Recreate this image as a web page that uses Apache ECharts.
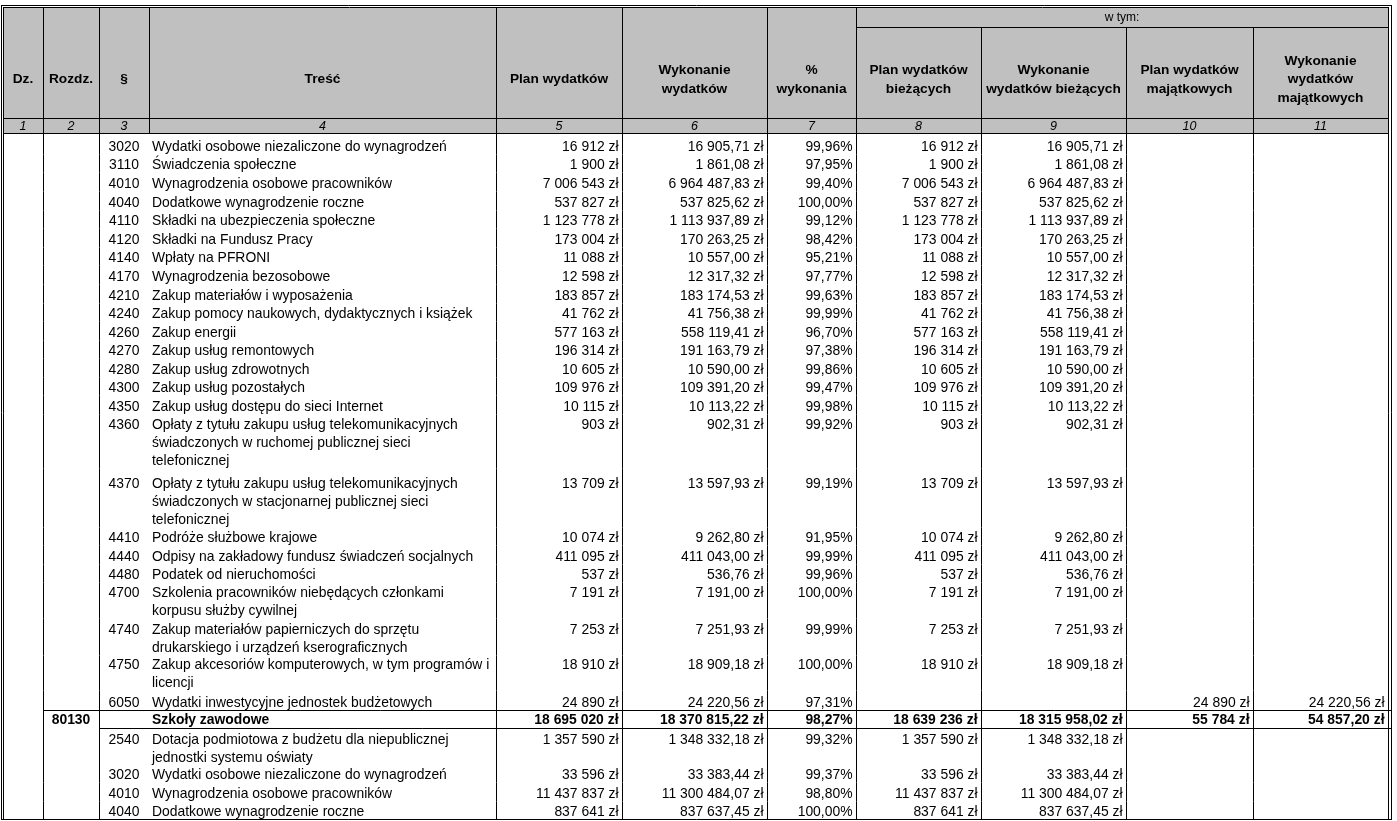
<!DOCTYPE html>
<html>
<head>
<meta charset="utf-8">
<title>Wykonanie wydatków</title>
<script src="https://cdn.jsdelivr.net/npm/echarts@6/dist/echarts.min.js"></script>
<style>
  html, body { margin: 0; padding: 0; background: #fff; }
  #chart { width: 1397px; height: 821px; }
</style>
</head>
<body>
<div id="chart"></div>
<script>
// naglowek tabeli
const columnTitles = ['Dz.', 'Rozdz.', '§', 'Treść', 'Plan wydatków', 'Wykonanie\nwydatków', '%\nwykonania',
  'Plan wydatków\nbieżących', 'Wykonanie\nwydatków bieżących', 'Plan wydatków\nmajątkowych', 'Wykonanie\nwydatków\nmajątkowych']
const columnNumbers = ['1', '2', '3', '4', '5', '6', '7', '8', '9', '10', '11']
const groupTitle = 'w tym:'

// wiersze
const paragraphs = ['3020', '3110', '4010', '4040', '4110', '4120', '4140', '4170', '4210', '4240', '4260', '4270', '4280', '4300', '4350',
  '4360', '4370', '4410', '4440', '4480', '4700', '4740', '4750', '6050', '', '2540', '3020', '4010', '4040']
const chapters = ['', '', '', '', '', '', '', '', '', '', '', '', '', '', '',
  '', '', '', '', '', '', '', '', '', '80130', '', '', '', '']
const descriptions = [
  'Wydatki osobowe niezaliczone do wynagrodzeń',
  'Świadczenia społeczne',
  'Wynagrodzenia osobowe pracowników',
  'Dodatkowe wynagrodzenie roczne',
  'Składki na ubezpieczenia społeczne',
  'Składki na Fundusz Pracy',
  'Wpłaty na PFRONI',
  'Wynagrodzenia bezosobowe',
  'Zakup materiałów i wyposażenia',
  'Zakup pomocy naukowych, dydaktycznych i książek',
  'Zakup energii',
  'Zakup usług remontowych',
  'Zakup usług zdrowotnych',
  'Zakup usług pozostałych',
  'Zakup usług dostępu do sieci Internet',
  'Opłaty z tytułu zakupu usług telekomunikacyjnych\nświadczonych w ruchomej publicznej sieci\ntelefonicznej',
  'Opłaty z tytułu zakupu usług telekomunikacyjnych\nświadczonych w stacjonarnej publicznej sieci\ntelefonicznej',
  'Podróże służbowe krajowe',
  'Odpisy na zakładowy fundusz świadczeń socjalnych',
  'Podatek od nieruchomości',
  'Szkolenia pracowników niebędących członkami\nkorpusu służby cywilnej',
  'Zakup materiałów papierniczych do sprzętu\ndrukarskiego i urządzeń kserograficznych',
  'Zakup akcesoriów komputerowych, w tym programów i\nlicencji',
  'Wydatki inwestycyjne jednostek budżetowych',
  'Szkoły zawodowe',
  'Dotacja podmiotowa z budżetu dla niepublicznej\njednostki systemu oświaty',
  'Wydatki osobowe niezaliczone do wynagrodzeń',
  'Wynagrodzenia osobowe pracowników',
  'Dodatkowe wynagrodzenie roczne'
]
const planTotal = [16912, 1900, 7006543, 537827, 1123778, 173004, 11088, 12598, 183857, 41762, 577163, 196314, 10605, 109976, 10115,
  903, 13709, 10074, 411095, 537, 7191, 7253, 18910, 24890, 18695020, 1357590, 33596, 11437837, 837641]
const execTotal = [16905.71, 1861.08, 6964487.83, 537825.62, 1113937.89, 170263.25, 10557.00, 12317.32, 183174.53, 41756.38, 558119.41,
  191163.79, 10590.00, 109391.20, 10113.22, 902.31, 13597.93, 9262.80, 411043.00, 536.76, 7191.00, 7251.93, 18909.18, 24220.56,
  18370815.22, 1348332.18, 33383.44, 11300484.07, 837637.45]
const execPercent = [99.96, 97.95, 99.40, 100.00, 99.12, 98.42, 95.21, 97.77, 99.63, 99.99, 96.70, 97.38, 99.86, 99.47, 99.98,
  99.92, 99.19, 91.95, 99.99, 99.96, 100.00, 99.99, 100.00, 97.31, 98.27, 99.32, 99.37, 98.80, 100.00]
const planCurrent = [16912, 1900, 7006543, 537827, 1123778, 173004, 11088, 12598, 183857, 41762, 577163, 196314, 10605, 109976, 10115,
  903, 13709, 10074, 411095, 537, 7191, 7253, 18910, null, 18639236, 1357590, 33596, 11437837, 837641]
const execCurrent = [16905.71, 1861.08, 6964487.83, 537825.62, 1113937.89, 170263.25, 10557.00, 12317.32, 183174.53, 41756.38, 558119.41,
  191163.79, 10590.00, 109391.20, 10113.22, 902.31, 13597.93, 9262.80, 411043.00, 536.76, 7191.00, 7251.93, 18909.18, null,
  18315958.02, 1348332.18, 33383.44, 11300484.07, 837637.45]
const planCapital = [null, null, null, null, null, null, null, null, null, null, null, null, null, null, null,
  null, null, null, null, null, null, null, null, 24890, 55784, null, null, null, null]
const execCapital = [null, null, null, null, null, null, null, null, null, null, null, null, null, null, null,
  null, null, null, null, null, null, null, null, 24220.56, 54857.20, null, null, null, null]

// uklad (piksele)
const edges = [3, 43, 99, 149, 496, 622, 767, 856, 981, 1126, 1253, 1388]
const rowHeights = [21.5, 18, 19, 19, 18, 19, 18, 19, 19, 18, 19, 18, 19, 18, 19,
  54, 59, 18, 19, 18, 36, 37, 35, 19.5, 18, 37, 17.5, 19, 18]
const headTop = 8
const groupLine = 27
const numberTop = 118
const bodyTop = 133
const lineStep = 18
const textShift = 1.8
const fontFamily = '"Liberation Sans", Arial, sans-serif'
const fontSize = 13.9

const money = (v, dec) => {
  if (v === null || v === undefined) return ''
  const parts = v.toFixed(dec).split('.')
  const int = parts[0].replace(/\B(?=(\d{3})+(?!\d))/g, ' ')
  return int + (parts[1] ? ',' + parts[1] : '') + ' zł'
}
const percent = v => v === null ? '' : v.toFixed(2).replace('.', ',') + '%'

const rowTops = []
rowHeights.reduce((acc, h) => { rowTops.push(acc); return acc + h }, bodyTop)
const bodyBottom = rowTops[rowTops.length - 1] + rowHeights[rowHeights.length - 1]

const crisp = v => Math.round(v - 0.5) + 0.5
const line = (a, b, w) => ({
  type: 'line',
  shape: { x1: a[0], y1: a[1], x2: b[0], y2: b[1] },
  style: { stroke: '#000', lineWidth: w || 1 }
})
const text = (p, str, opt) => ({
  type: 'text',
  style: Object.assign({
    x: p[0], y: p[1], text: str, fill: '#000',
    fontFamily: fontFamily, fontSize: fontSize,
    align: 'left', verticalAlign: 'middle'
  }, opt || {})
})

const chart = echarts.init(document.getElementById('chart'), null, { renderer: 'canvas' })

const option = {
  animation: false,
  backgroundColor: '#fff',
  grid: { left: 0, right: 0, top: 0, bottom: 0 },
  xAxis: { type: 'value', min: 0, max: 1397, show: false },
  yAxis: { type: 'value', min: 0, max: 821, inverse: true, show: false },
  series: [
    {
      // tlo naglowka i ramka
      type: 'custom',
      silent: true,
      clip: false,
      z: 1,
      data: [[0]],
      renderItem(params, api) {
        const P = (x, y) => api.coord([x, y])
        const tl = P(edges[0] + 1, headTop)
        const br = P(edges[11], bodyTop)
        const g = P(edges[7], groupLine)
        const ge = P(edges[11], groupLine)
        const bottom = crisp(P(0, bodyBottom)[1])
        return {
          type: 'group',
          children: [
            { type: 'rect', shape: { x: tl[0], y: tl[1], width: br[0] - tl[0], height: br[1] - tl[1] }, style: { fill: '#c0c0c0' } },
            // podwojna ramka
            line([1, 5.5], [1392, 5.5]),
            line([3, 7.5], [1389, 7.5]),
            line([1.5, 5], [1.5, bottom]),
            line([3.5, 7], [3.5, bottom]),
            line([crisp(br[0]), 7], [crisp(br[0]), bottom]),
            line([1391.5, 5], [1391.5, bottom]),
            line([g[0], crisp(g[1])], [ge[0], crisp(g[1])]),
            text([(g[0] + ge[0]) / 2, 17.5], groupTitle, { align: 'center', fontSize: 12 }),
            line([1, bottom], [1392, bottom])
          ]
        }
      }
    },
    {
      // komorki naglowka
      type: 'custom',
      silent: true,
      clip: false,
      z: 2,
      data: columnTitles.map((t, i) => [i]),
      renderItem(params, api) {
        const c = api.value(0)
        const P = (x, y) => api.coord([x, y])
        const x0 = P(edges[c], 0)[0]
        const x1 = P(edges[c + 1], 0)[0]
        const cx = (x0 + x1) / 2
        const lineTop = (c >= 7 && c < 10) ? groupLine : headTop
        const children = [
          text([cx, P(0, 79.5)[1]], columnTitles[c], { align: 'center', fontWeight: 'bold', fontSize: 13.7, lineHeight: 18.5 }),
          text([cx, P(0, 126.5)[1]], columnNumbers[c], { align: 'center', fontStyle: 'italic', fontSize: 12.5 }),
          line([x0, crisp(numberTop)], [x1, crisp(numberTop)]),
          line([x0, crisp(bodyTop)], [x1, crisp(bodyTop)])
        ]
        if (c < 10) {
          children.push(line([crisp(x1), P(0, lineTop)[1]], [crisp(x1), P(0, bodyTop)[1]]))
        }
        return { type: 'group', children }
      }
    },
    {
      // wiersze tabeli
      type: 'custom',
      silent: true,
      clip: false,
      z: 2,
      data: paragraphs.map((p, i) => [i]),
      renderItem(params, api) {
        const i = api.value(0)
        const P = (x, y) => api.coord([x, y])
        const top = rowTops[i]
        const h = rowHeights[i]
        const isChapter = chapters[i] !== ''
        const lines = descriptions[i].split('\n')
        // tekst wyrownany do dolu, liczby na wysokosci pierwszej linii
        const firstY = top + h - lineStep / 2 - lineStep * (lines.length - 1) + (isChapter ? 1 : textShift)
        const ty = P(0, firstY)[1]
        const weight = isChapter ? 'bold' : 'normal'
        const children = []
        // linie pionowe (bez linii miedzy § i trescia)
        edges.forEach((e, k) => {
          if (k === 0 || k === 3 || k === 11) return
          const x = crisp(P(e, 0)[0])
          children.push(line([x, P(0, top)[1]], [x, P(0, top + h)[1]]))
        })
        if (isChapter) {
          children.push(line([P(edges[1], 0)[0], crisp(P(0, top)[1])], [1392, crisp(P(0, top)[1])]))
          children.push(line([P(edges[2], 0)[0], crisp(P(0, top + h)[1])], [1392, crisp(P(0, top + h)[1])]))
        }
        children.push(text([P((edges[2] + edges[3]) / 2, 0)[0], ty], paragraphs[i], { align: 'center' }))
        children.push(text([P((edges[1] + edges[2]) / 2, 0)[0], ty], chapters[i], { align: 'center', fontWeight: 'bold' }))
        lines.forEach((s, j) => {
          children.push(text([P(edges[3] + 3, 0)[0], P(0, firstY + j * lineStep)[1]], s, { fontWeight: weight }))
        })
        const cells = [
          money(planTotal[i], 0), money(execTotal[i], 2), percent(execPercent[i]),
          money(planCurrent[i], 0), money(execCurrent[i], 2),
          money(planCapital[i], 0), money(execCapital[i], 2)
        ]
        cells.forEach((s, k) => {
          if (!s) return
          const right = P(edges[k + 5] - 3.5, 0)[0]
          children.push(text([right, ty], s, { align: 'right', fontWeight: weight }))
        })
        return { type: 'group', children }
      }
    }
  ]
}

chart.setOption(option)
</script>
</body>
</html>
